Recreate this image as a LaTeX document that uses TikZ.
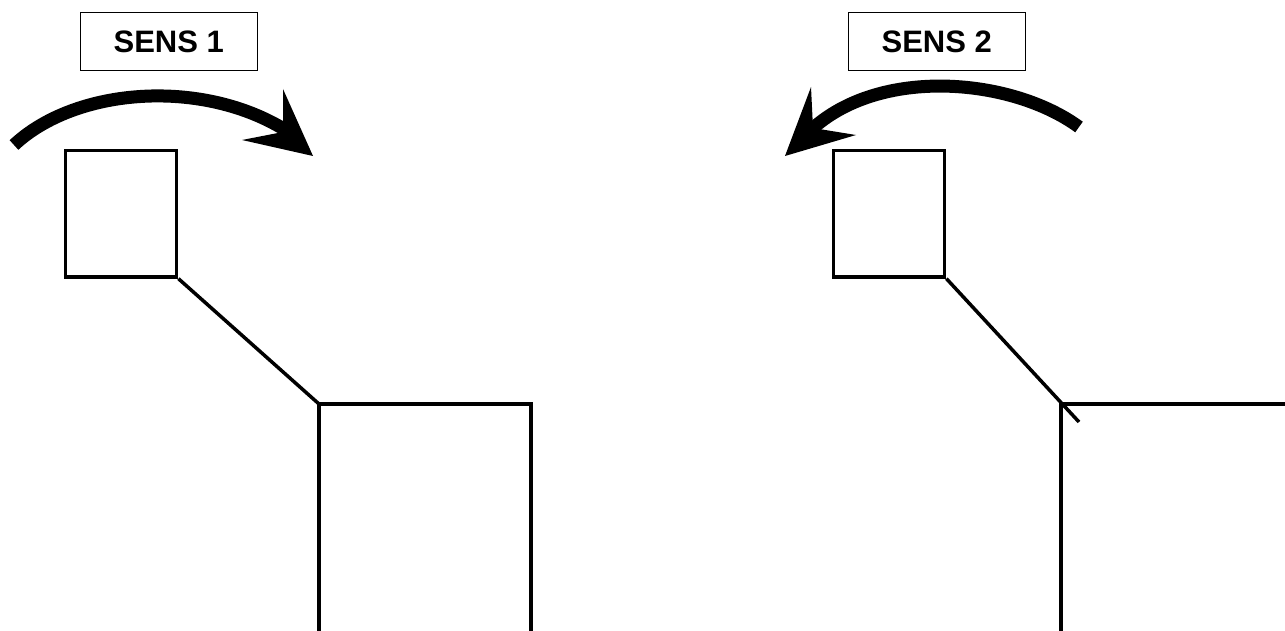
\documentclass[tikz,border=0pt]{standalone}
\usepackage{fontspec}
\setmainfont{Liberation Sans}
\begin{document}
\begin{tikzpicture}[x=1pt,y=-1pt,
  labelbox/.style={draw=black,line width=1pt,rectangle,inner sep=0pt,minimum width=176.5pt,minimum height=58pt,font=\fontsize{31pt}{34pt}\selectfont\bfseries,text=black},
  part/.style={draw=black,line width=3.3pt,rectangle,inner sep=0pt,minimum width=111.5pt,minimum height=126.5pt},
  wire/.style={draw=black,line width=3.5pt},
  sweep/.style={draw=black,line width=13pt,line cap=butt},
  tip/.style={fill=black,draw=none}]
\useasboundingbox (0,0) rectangle (1285,631);
% left
\node[labelbox] (s1) at (168.75,41.5) {SENS 1};
\node[part] (a) at (121,213.75) {};
\coordinate (ac) at (319,404);
\coordinate (ar) at (531,404);
\coordinate (abl) at (319,640);
\coordinate (abr) at (531,640);
\draw[wire] (a.south east) -- (ac);
\draw[wire,line join=miter] (abl) -- (ac) -- (ar) -- (abr);
\coordinate (a0) at (14,145);
\coordinate (a1) at (287,131);
\draw[sweep] (a0) .. controls (76,87) and (203,78) .. (a1);
\fill[tip] (313,156) -- (283,89) -- (283,132) -- (242,140) -- cycle;
% right
\node[labelbox] (s2) at (936.75,41.5) {SENS 2};
\node[part] (b) at (889,213.75) {};
\coordinate (bc) at (1061,404);
\coordinate (be) at (1079,422);
\coordinate (br) at (1290,404);
\coordinate (bbl) at (1061,640);
\draw[wire] (b.south east) -- (be);
\draw[wire] (bbl) -- (bc) -- (br);
\coordinate (b0) at (1079,127);
\coordinate (b1) at (811,130);
\draw[sweep] (b0) .. controls (1012,78) and (880,66) .. (b1);
\fill[tip] (785,156) -- (811,87) -- (813,128) -- (856,135) -- cycle;
\end{tikzpicture}
\end{document}
